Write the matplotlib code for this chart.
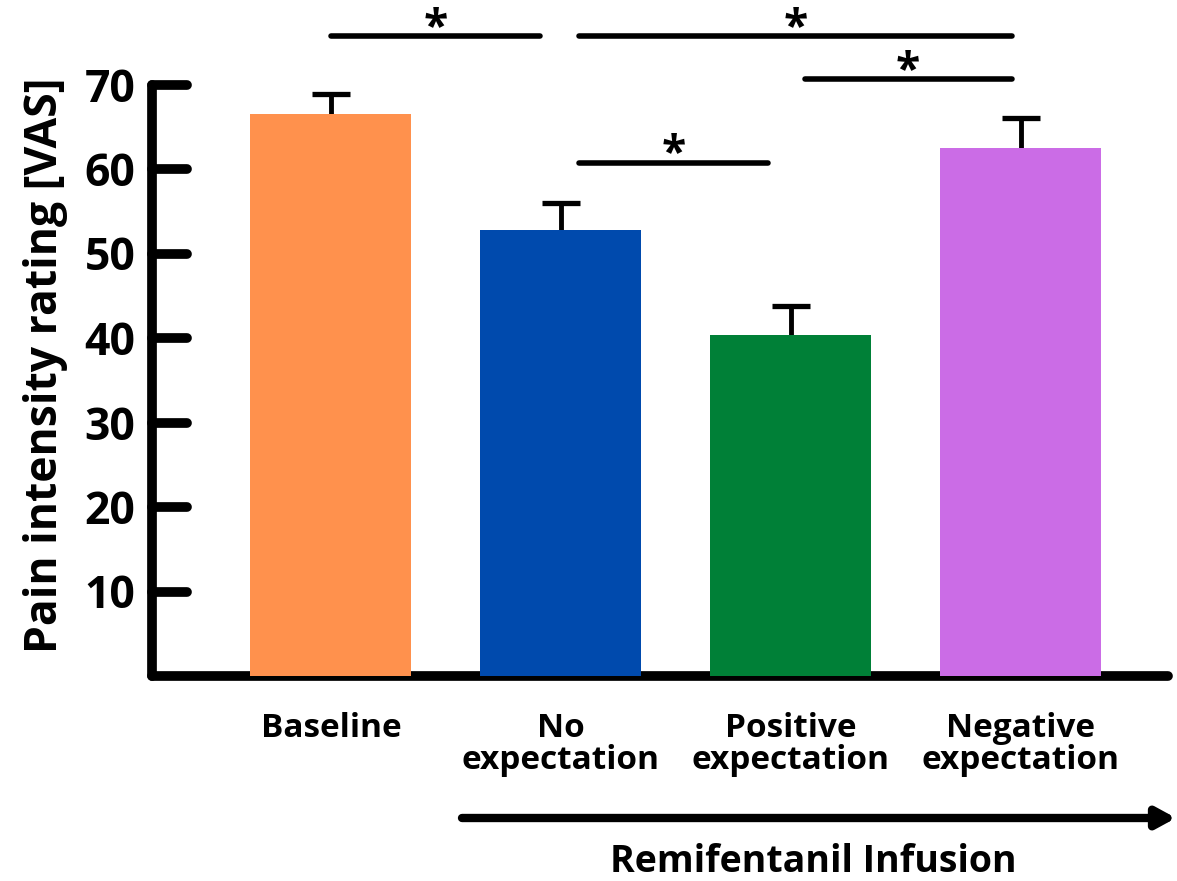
import matplotlib
matplotlib.use("Agg")
import matplotlib.pyplot as plt
from matplotlib.markers import MarkerStyle
import numpy as np

# ---- data ----
categories = ["Baseline", "No\nexpectation", "Positive\nexpectation", "Negative\nexpectation"]
means = [66.5, 52.8, 40.4, 62.5]
sem_upper = [2.4, 3.2, 3.4, 3.5]
colors = ["#ff914d", "#004aad", "#008037", "#cb6ce6"]
y_ticks = [10, 20, 30, 40, 50, 60, 70]
# significance comparisons: (from bar, to bar, level, start offset, end offset)
comparisons = [
    (0, 1, 75.7, 0.0, -0.09),
    (1, 3, 75.7, 0.08, -0.04),
    (2, 3, 70.6, 0.06, -0.04),
    (1, 2, 60.7, 0.08, -0.10),
]
y_label = "Pain intensity rating [VAS]"
arrow_label = "Remifentanil Infusion"

plt.rcParams['font.family'] = ['Open Sans', 'DejaVu Sans']
plt.rcParams['font.weight'] = 'bold'

fig = plt.figure(figsize=(11.77, 8.81), dpi=100)
ax = fig.add_axes([152/1177, 1-676/881, (1168-152)/1177, (676-84.5)/881])

x = np.arange(len(categories))
ax.bar(x, means, width=0.7, color=colors, zorder=3)
tops = np.array(means) + np.array(sem_upper)
ax.errorbar(x, means, yerr=[np.zeros(len(means)), sem_upper], fmt='none',
            ecolor='black', elinewidth=3.5, capsize=0, zorder=2)
ax.plot(x, tops, ls='none', marker='_', ms=27, mew=3.8, color='black', zorder=2)

ax.set_xlim(-0.778, 3.64)
ax.set_ylim(0, 70)

for side in ['top', 'right']:
    ax.spines[side].set_visible(False)
for side in ['left', 'bottom']:
    ax.spines[side].set_linewidth(7)
    ax.spines[side].set_capstyle('round')

ax.set_yticks(y_ticks)
ax.set_yticklabels([str(v) for v in y_ticks], fontsize=32, fontweight='bold')
ax.tick_params(axis='y', direction='in', length=25, width=7, pad=12)
for t in ax.yaxis.get_major_ticks():
    t.tick1line.set_marker(MarkerStyle(t.tick1line.get_marker(), capstyle='round'))

ax.set_xticks(x)
ax.set_xticklabels(categories, fontsize=24, fontweight='bold', linespacing=0.97)
ax.tick_params(axis='x', length=0, pad=26)

ax.set_ylabel(y_label, fontsize=32, fontweight='bold')
ax.yaxis.set_label_coords(-0.083, 0.525)

for a, b, lvl, so, eo in comparisons:
    xs = [x[a] + so, x[b] + eo]
    ax.plot(xs, [lvl, lvl], color='black', lw=4, solid_capstyle='round', clip_on=False)
    ax.text(np.mean(xs), lvl - 1.7, "*", ha='center', va='bottom', fontsize=32,
            fontweight='bold', clip_on=False)

# arrow below labels
ax.annotate("", xy=(1176/1177, 1-818/881), xytext=(462/1177, 1-818/881),
            xycoords='figure fraction', textcoords='figure fraction',
            arrowprops=dict(arrowstyle='-|>,head_length=1.1,head_width=0.6', lw=6,
                            color='black', shrinkA=0, shrinkB=0, capstyle='round'))
fig.text(813/1177, 1-862/881, arrow_label, ha='center', va='center', fontsize=27,
         fontweight='bold')

fig.savefig("out.png", dpi=100)
